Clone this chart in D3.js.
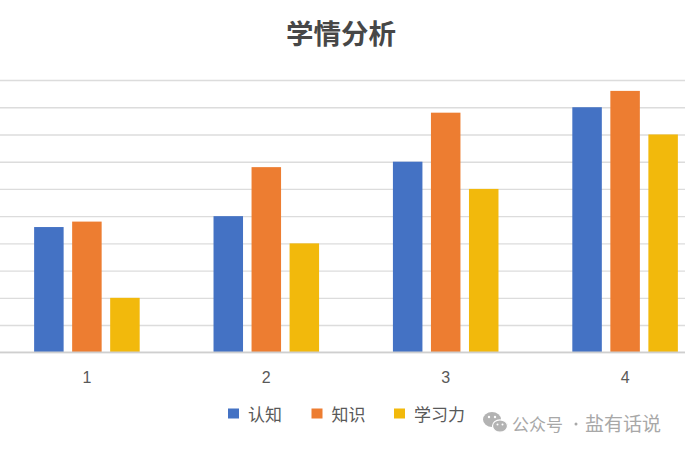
<!DOCTYPE html>
<html><head><meta charset="utf-8">
<script src="https://cdn.jsdelivr.net/npm/d3@7"></script>
<style>
html,body{margin:0;padding:0;background:#fff;}
svg{display:block;}
</style></head>
<body>
<svg id="chart" width="685" height="452"></svg>
<script>
const categories = ["1", "2", "3", "4"];
const seriesNames = ["认知", "知识", "学习力"];
const cognitionValues = [4.6, 5, 7, 9];
const knowledgeValues = [4.8, 6.8, 8.8, 9.6];
const learningValues = [2, 4, 6, 8];
const yTickValues = [0, 1, 2, 3, 4, 5, 6, 7, 8, 9, 10];
const colors = ["#4472C4", "#ED7D31", "#F2B90C"];

const seriesValues = [cognitionValues, knowledgeValues, learningValues];
const table = categories.map((c, i) => ({cat: c, vals: seriesNames.map((s, j) => ({name: s, v: seriesValues[j][i], k: j}))}));

const W = 685, H = 452;
const svg = d3.select("#chart");
svg.append("rect").attr("width", W).attr("height", H).attr("fill", "#fff");

const y = d3.scaleLinear().domain([0, 10]).range([352.3, 80]);
const x0 = d3.scaleBand().domain(categories).range([-2.8, 714.8]).paddingInner(0.4116).paddingOuter(0.2058);
const x1 = d3.scaleBand().domain(seriesNames).range([0, x0.bandwidth()]).paddingInner(0.224).paddingOuter(0);

// gridlines
const grid = svg.append("g")
  .call(d3.axisLeft(y).tickValues(yTickValues).tickSize(-W).tickFormat(""));
grid.select(".domain").remove();
grid.selectAll(".tick line").attr("stroke", "#dcdcdc").attr("stroke-width", 1.4);

// bars
const groups = svg.append("g").selectAll("g").data(table).join("g")
  .attr("transform", d => `translate(${x0(d.cat)},0)`);
groups.selectAll("rect").data(d => d.vals).join("rect")
  .attr("x", d => x1(d.name))
  .attr("width", x1.bandwidth())
  .attr("y", d => y(d.v))
  .attr("height", d => y(0) - y(d.v))
  .attr("fill", d => colors[d.k]);

// x axis
const xa = svg.append("g").attr("transform", `translate(0,${y(0)})`)
  .call(d3.axisBottom(x0).tickSize(0).tickPadding(19));
xa.select(".domain").attr("stroke", "#cfcfcf").attr("stroke-width", 1.4).attr("d", `M0,0H${W}`);
xa.selectAll("text").attr("font-family", "'Liberation Sans', 'DejaVu Sans', sans-serif")
  .attr("font-size", 16).attr("fill", "#595959");

// title
svg.append("text").attr("x", 341).attr("y", 44).attr("text-anchor", "middle")
  .attr("font-family", "'Noto Sans CJK SC', sans-serif").attr("font-size", 27.5).attr("font-weight", "bold")
  .attr("fill", "#474747").text("学情分析");

// legend
const legendX = [228, 311.5, 394];
const lg = svg.append("g").selectAll("g").data(seriesNames).join("g")
  .attr("transform", (d, i) => `translate(${legendX[i]},0)`);
lg.append("rect").attr("x", 0).attr("y", 408.5).attr("width", 11).attr("height", 10)
  .attr("fill", (d, i) => colors[i]);
lg.append("text").attr("x", 20).attr("y", 420.5)
  .attr("font-family", "'Noto Sans CJK SC', sans-serif").attr("font-size", 17).attr("fill", "#595959")
  .text(d => d);

// watermark
const wm = svg.append("g").attr("fill", "#b3b3b3");
wm.append("ellipse").attr("cx", 492).attr("cy", 419.5).attr("rx", 9).attr("ry", 7.5);
wm.append("ellipse").attr("cx", 500).attr("cy", 426).attr("rx", 7.5).attr("ry", 6.2).attr("stroke", "#fff").attr("stroke-width", 1.2);
wm.append("circle").attr("cx", 489).attr("cy", 417).attr("r", 1.2).attr("fill", "#fff");
wm.append("circle").attr("cx", 495).attr("cy", 417).attr("r", 1.2).attr("fill", "#fff");
wm.append("circle").attr("cx", 497.5).attr("cy", 424.5).attr("r", 1).attr("fill", "#fff");
wm.append("circle").attr("cx", 502.5).attr("cy", 424.5).attr("r", 1).attr("fill", "#fff");
const wmFont = "'Noto Sans CJK SC', sans-serif";
svg.append("text").attr("x", 512).attr("y", 430.5).attr("font-family", wmFont)
  .attr("font-size", 17).attr("fill", "#a8a8a8").text("公众号");
svg.append("circle").attr("cx", 576).attr("cy", 424).attr("r", 1.5).attr("fill", "#a8a8a8");
svg.append("text").attr("x", 585).attr("y", 430.5).attr("font-family", wmFont)
  .attr("font-size", 19).attr("fill", "#a8a8a8").text("盐有话说");
</script>
</body></html>
